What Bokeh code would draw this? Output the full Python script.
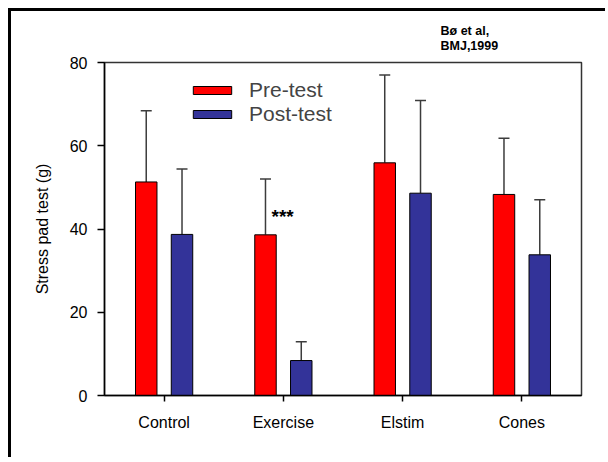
from bokeh.plotting import figure
from bokeh.models import (FactorRange, Range1d, ColumnDataSource, Whisker, TeeHead,
                          Legend, LegendItem, FixedTicker)
from bokeh.transform import dodge
from bokeh.core.properties import value
from bokeh.embed import file_html
from bokeh.resources import INLINE

# ---- data ----
categories = ["Control", "Exercise", "Elstim", "Cones"]
pre_mean = [51.3, 38.6, 55.9, 48.3]
pre_sd = [17.1, 13.4, 21.1, 13.5]
post_mean = [38.7, 8.4, 48.6, 33.8]
post_sd = [15.7, 4.5, 22.3, 13.2]
signif = ["", "***", "", ""]
y_ticks = [0, 20, 40, 60, 80]
series_names = ["Pre-test", "Post-test"]
citation = "Bø et al,\nBMJ,1999"
y_label = "Stress pad test (g)"

FONT = "Liberation Sans"
RED = "#FF0000"
BLUE = "#333399"
ERR = "#3c3c3c"

src = ColumnDataSource(dict(
    cat=categories,
    pre=pre_mean,
    pre_hi=[m + s for m, s in zip(pre_mean, pre_sd)],
    post=post_mean,
    post_hi=[m + s for m, s in zip(post_mean, post_sd)],
    sig=signif,
))

p = figure(width=597, height=449,
           x_range=FactorRange(factors=categories, range_padding=0),
           y_range=Range1d(0, 80),
           title=citation,
           output_backend="svg", toolbar_location=None,
           min_border_left=93, min_border_right=27,
           min_border_top=51, min_border_bottom=65)

# outer slide border (left and top edges) drawn as an offset shadow
p.styles = {"margin-left": "11px", "margin-top": "11px",
            "box-shadow": "-3px -3px 0px 0px black"}

p.background_fill_color = "white"
p.border_fill_color = "white"
p.grid.visible = False
p.outline_line_color = "#333333"
p.outline_line_width = 1.5

# citation (top right)
p.title.align = "left"
p.title.offset = 336
p.title.text_font = FONT
p.title.text_font_size = "12.5px"
p.title.text_font_style = "bold"
p.title.text_color = "black"
p.title.text_line_height = 1.1
p.title.standoff = 19

off = 0.15
r_pre = p.vbar(x=dodge("cat", -off, range=p.x_range), top="pre", width=0.18, source=src,
               fill_color=RED, line_color="black", line_width=1)
r_post = p.vbar(x=dodge("cat", off, range=p.x_range), top="post", width=0.18, source=src,
                fill_color=BLUE, line_color="black", line_width=1)

for shift, lo, hi in [(-off, "pre", "pre_hi"), (off, "post", "post_hi")]:
    w = Whisker(base=dodge("cat", shift, range=p.x_range), lower=lo, upper=hi, source=src,
                line_color=ERR, line_width=1.5,
                upper_head=TeeHead(size=11, line_color=ERR, line_width=1.5),
                lower_head=None)
    p.add_layout(w)

p.text(x=dodge("cat", -off, range=p.x_range), y="pre", text="sig", source=src,
       x_offset=6, y_offset=-18, text_font=value(FONT), text_font_size="19px",
       text_font_style="bold", text_align="left", text_baseline="middle", text_color="black")

# axes
for ax in (p.xaxis, p.yaxis):
    ax.axis_line_color = "black"
    ax.axis_line_width = 1.5
    ax.major_tick_line_color = "black"
    ax.major_tick_line_width = 1.5
    ax.major_tick_in = 0
    ax.minor_tick_line_color = None
    ax.major_label_text_font = FONT
    ax.major_label_text_font_size = "16px"
    ax.major_label_text_color = "black"

p.xaxis.major_tick_out = 6
p.xaxis.major_label_standoff = 12

p.yaxis.ticker = FixedTicker(ticks=y_ticks)
p.yaxis.major_tick_out = 7
p.yaxis.major_label_standoff = 10
p.yaxis.axis_label = y_label
p.yaxis.axis_label_text_font = FONT
p.yaxis.axis_label_text_font_size = "16px"
p.yaxis.axis_label_text_font_style = "normal"
p.yaxis.axis_label_text_color = "black"
p.yaxis.axis_label_standoff = 16

legend = Legend(items=[LegendItem(label=series_names[0], renderers=[r_pre]),
                       LegendItem(label=series_names[1], renderers=[r_post])],
                location=(84, 269), glyph_width=48, glyph_height=10, label_standoff=13,
                label_text_font=FONT, label_text_font_size="21px", label_height=18,
                padding=0, margin=0, spacing=-3,
                border_line_alpha=0, background_fill_alpha=0)
p.add_layout(legend)

open("out.html", "w").write(file_html(p, INLINE))
